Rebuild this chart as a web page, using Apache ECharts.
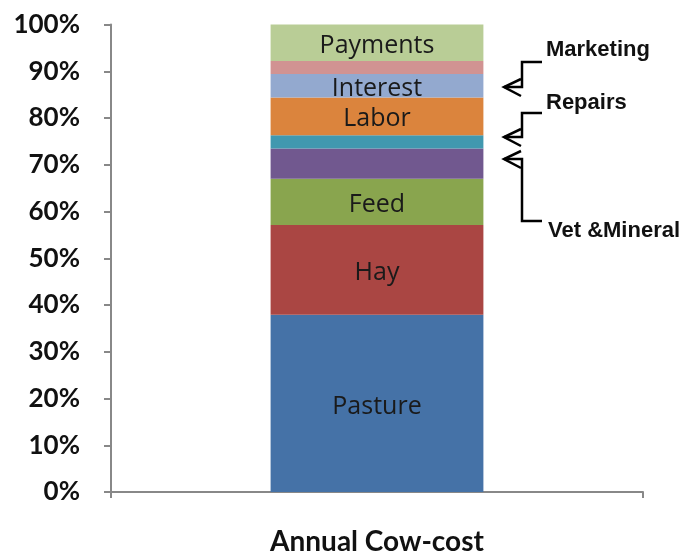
<!DOCTYPE html>
<html>
<head>
<meta charset="utf-8">
<script src="https://cdn.jsdelivr.net/npm/echarts@6/dist/echarts.min.js"></script>
<style>html,body{margin:0;padding:0;background:#fff}#c{width:681px;height:554px}</style>
</head>
<body>
<div id="c"></div>
<script>
const categories = ['Annual Cow-cost'];
const seriesNames = ['Pasture', 'Hay', 'Feed', 'Vet &Mineral', 'Repairs', 'Labor', 'Interest', 'Marketing', 'Payments'];
const seriesValues = [37.9, 19.2, 9.9, 6.5, 2.8, 8.1, 5.0, 2.8, 7.8];
const showInsideLabel = [true, true, true, false, false, true, true, false, true];
const colors = ['#4572A7', '#AA4643', '#89A54E', '#71588F', '#4198AF', '#DB843D', '#93A9CF', '#D19392', '#B9CD96'];
const yTicks = [0, 10, 20, 30, 40, 50, 60, 70, 80, 90, 100];

const chart = echarts.init(document.getElementById('c'), null, {renderer: 'canvas'});

const series = seriesNames.map((n, i) => ({
  name: n,
  type: 'bar',
  stack: 'total',
  barWidth: '40%',
  data: [seriesValues[i]],
  itemStyle: {color: colors[i]},
  label: {
    show: showInsideLabel[i],
    position: 'inside',
    offset: [0, 3],
    formatter: n,
    color: '#1a1a1a',
    fontFamily: 'Open Sans',
    fontSize: 25
  }
}));

const ink = {stroke: '#000', lineWidth: 2.5, fill: null};
function arrow(tipX, tipY, elbowX, labelY, endX) {
  return [
    {type: 'polyline', shape: {points: [[endX, labelY], [elbowX, labelY], [elbowX, tipY], [tipX, tipY]]}, style: ink},
    {type: 'polyline', shape: {points: [[elbowX - 1, tipY - 8], [tipX, tipY], [elbowX - 1, tipY + 9]]}, style: ink}
  ];
}

chart.setOption({
  animation: false,
  grid: {left: 111, right: 38, top: 24.5, bottom: 62, containLabel: false, outerBoundsMode: 'none'},
  xAxis: {
    type: 'category',
    data: categories,
    axisLine: {lineStyle: {color: '#888', width: 2}},
    axisTick: {show: true, length: 6, lineStyle: {color: '#888', width: 2}},
    axisLabel: {margin: 36, fontFamily: 'Lato', fontWeight: 'bold', fontSize: 28, color: '#111'}
  },
  yAxis: {
    type: 'value',
    min: 0, max: 100, interval: 10,
    axisLine: {show: true, lineStyle: {color: '#888', width: 2}},
    axisTick: {show: true, length: 7, lineStyle: {color: '#888', width: 2}},
    splitLine: {show: false},
    axisLabel: {margin: 31, formatter: v => yTicks.includes(v) ? v + '%' : '', fontFamily: 'Lato', fontWeight: 'bold', fontSize: 26, color: '#111'}
  },
  series: series,
  graphic: [
    ...arrow(504, 87, 522, 62, 542),
    ...arrow(504, 137, 522, 113, 542),
    {type: 'polyline', shape: {points: [[542, 221], [522, 221], [522, 159], [504, 159]]}, style: ink},
    {type: 'polyline', shape: {points: [[521, 151], [504, 159], [521, 168]]}, style: ink},
    {type: 'text', left: 546, top: 39, style: {text: 'Marketing', font: 'bold 22px "Liberation Sans"', fill: '#111'}},
    {type: 'text', left: 546, top: 92, style: {text: 'Repairs', font: 'bold 22px "Liberation Sans"', fill: '#111'}},
    {type: 'text', left: 548, top: 220, style: {text: 'Vet &Mineral', font: 'bold 22px "Liberation Sans"', fill: '#111'}}
  ]
});
</script>
</body>
</html>
